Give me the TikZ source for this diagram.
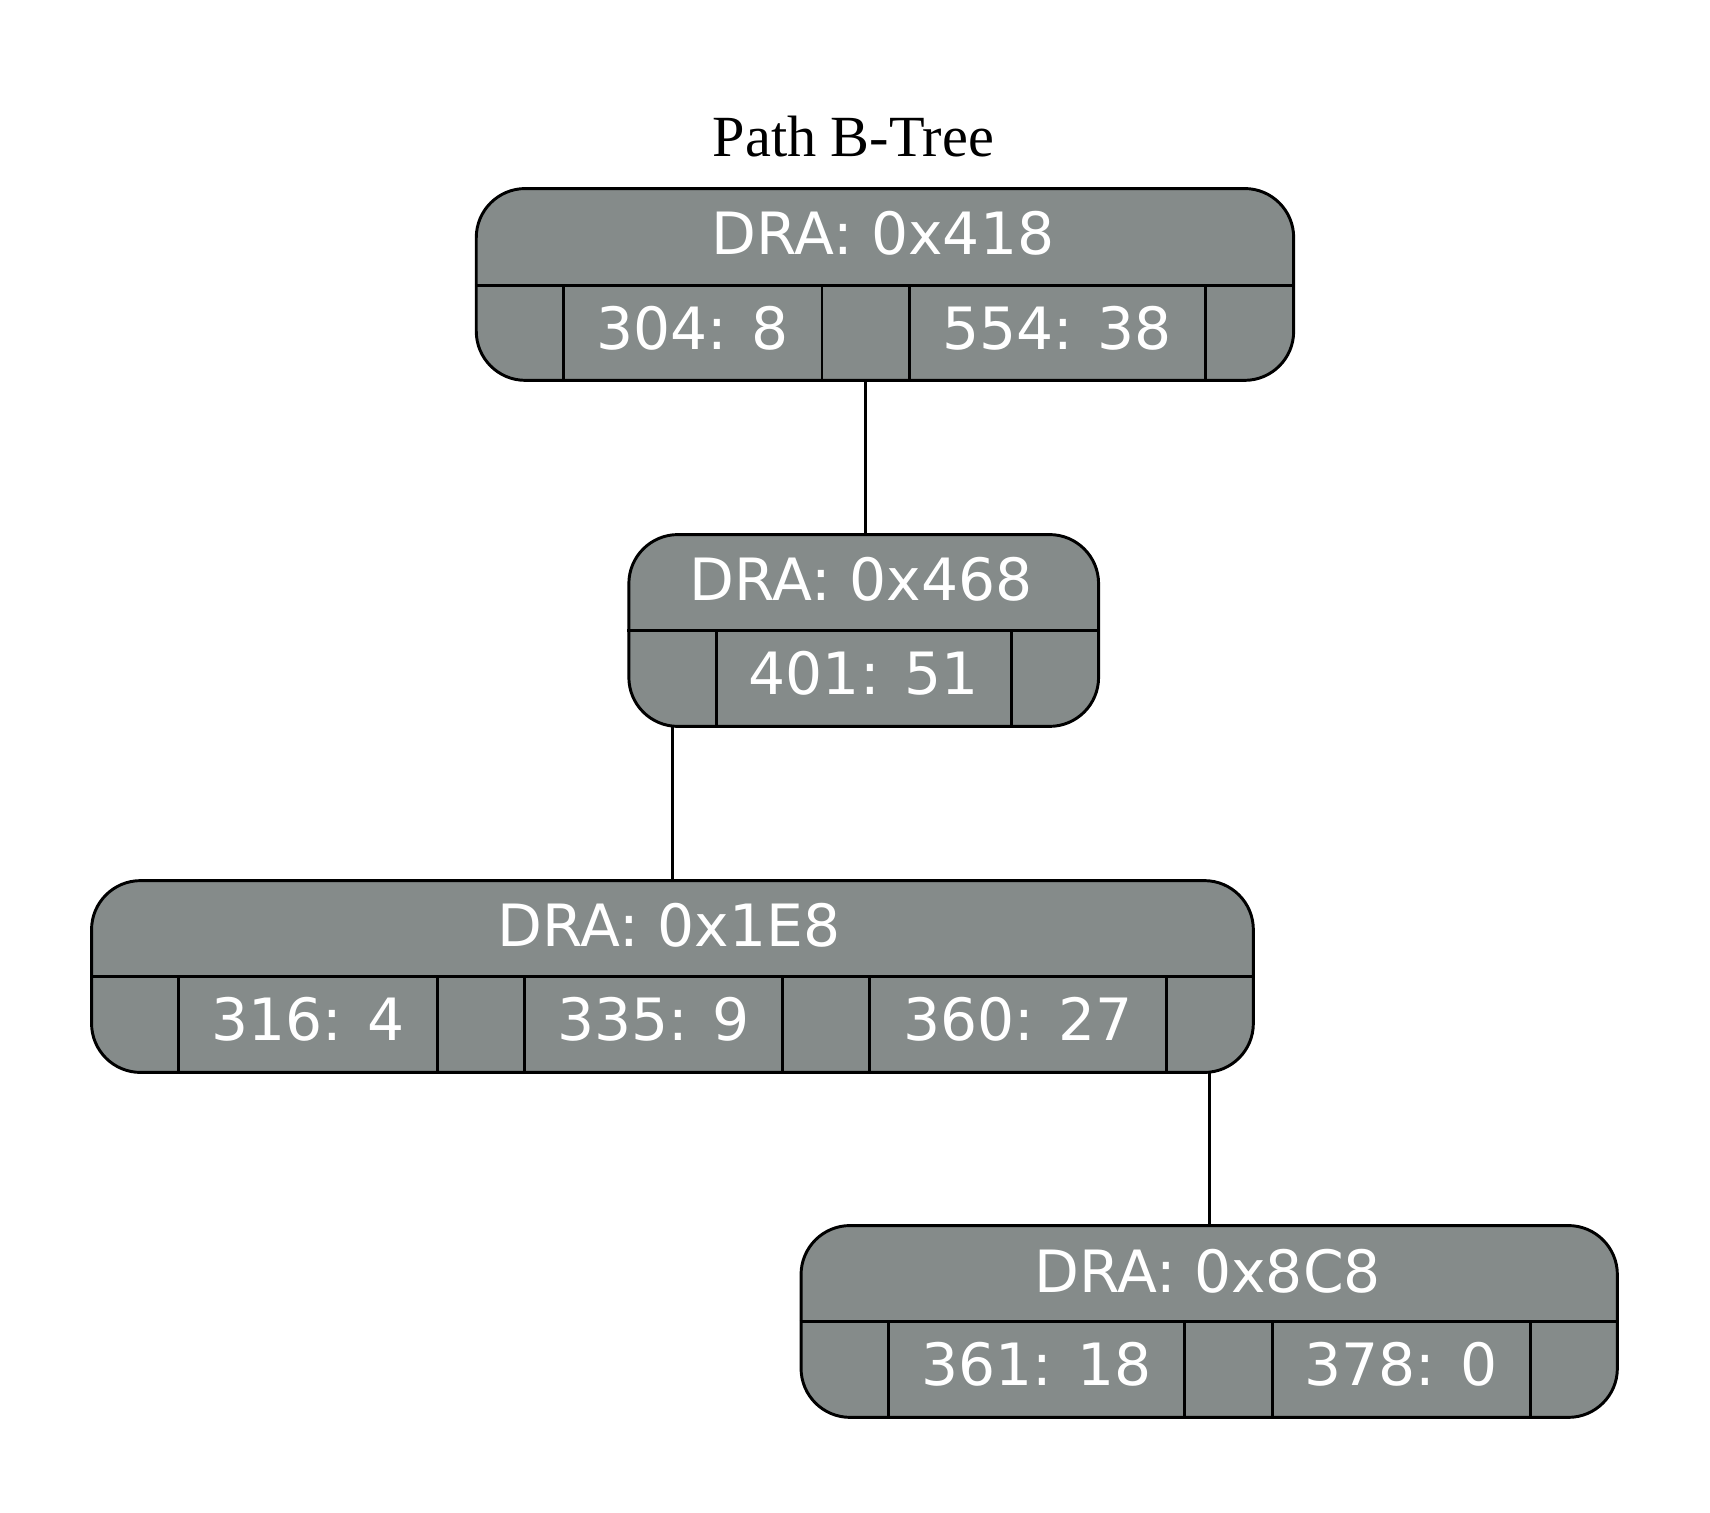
\documentclass[tikz,border=0pt]{standalone}
\usepackage{fontspec}
\setmainfont{Liberation Serif}
\newfontfamily\dvsans{DejaVu Sans}
\definecolor{recfill}{RGB}{133,139,138}
\begin{document}
\begin{tikzpicture}[x=1pt,y=-1pt,
  rec/.style={draw=black, line width=2.7pt, fill=recfill, rounded corners=45pt, inner sep=0pt, minimum height=176pt},
  lbl/.style={text=white, font=\dvsans\fontsize{53.5}{60}\selectfont, inner sep=0pt},
  cell/.style={inner sep=0pt, minimum height=87pt},
  sep/.style={draw=black, line width=2.7pt},
  edge/.style={draw=black, line width=2.5pt},
  ttl/.style={font=\fontsize{53.5}{60}\selectfont, inner sep=0pt}]
\useasboundingbox (0,0) rectangle (1569,1388);

\node[ttl] (title) at (783,125) {Path B-Tree};

% ---------- record 1 ----------
\node[rec, minimum width=750pt] (n1) at (812,261) {};
\node[lbl] (h1) at (810,214) {DRA: 0x418};
\node[cell, minimum width=80pt]  (a0) at (477,305.5) {};
\node[cell, minimum width=237pt] (a1) at (635.5,305.5) {};
\node[cell, minimum width=80pt]  (a2) at (794,305.5) {};
\node[cell, minimum width=272pt] (a3) at (970,305.5) {};
\node[cell, minimum width=81pt]  (a4) at (1146.5,305.5) {};
\node[lbl] (ta1) at ([yshift=4pt]a1.center) {304: 8};
\node[lbl] (ta3) at ([yshift=4pt]a3.center) {554: 38};
\draw[sep] (n1.west |- a0.north) -- (n1.east |- a0.north);
\draw[sep] (a0.north east) -- (a0.south east);
\draw[sep] (a1.north east) -- (a1.south east);
\draw[sep] (a2.north east) -- (a2.south east);
\draw[sep] (a3.north east) -- (a3.south east);

% ---------- record 2 ----------
\node[rec, minimum width=431pt] (n2) at (792.5,578.5) {};
\node[lbl] (h2) at (790,531.5) {DRA: 0x468};
\node[cell, minimum width=80pt]  (b0) at (617,622) {};
\node[cell, minimum width=271pt] (b1) at (792.5,622) {};
\node[cell, minimum width=80pt]  (b2) at (968,622) {};
\node[lbl] (tb1) at ([yshift=4pt]b1.center) {401: 51};
\draw[sep] (n2.west |- b0.north) -- (n2.east |- b0.north);
\draw[sep] (b0.north east) -- (b0.south east);
\draw[sep] (b1.north east) -- (b1.south east);

% ---------- record 3 ----------
\node[rec, minimum width=1066pt] (n3) at (617,896) {};
\node[lbl] (h3) at (614,849) {DRA: 0x1E8};
\node[cell, minimum width=80pt]  (c0) at (124,939.5) {};
\node[cell, minimum width=237pt] (c1) at (282.5,939.5) {};
\node[cell, minimum width=80pt]  (c2) at (441,939.5) {};
\node[cell, minimum width=237pt] (c3) at (599.5,939.5) {};
\node[cell, minimum width=80pt]  (c4) at (758,939.5) {};
\node[cell, minimum width=272pt] (c5) at (934,939.5) {};
\node[cell, minimum width=80pt]  (c6) at (1110,939.5) {};
\node[lbl] (tc1) at ([yshift=4pt]c1.center) {316: 4};
\node[lbl] (tc3) at ([yshift=4pt]c3.center) {335: 9};
\node[lbl] (tc5) at ([yshift=4pt]c5.center) {360: 27};
\draw[sep] (n3.west |- c0.north) -- (n3.east |- c0.north);
\draw[sep] (c0.north east) -- (c0.south east);
\draw[sep] (c1.north east) -- (c1.south east);
\draw[sep] (c2.north east) -- (c2.south east);
\draw[sep] (c3.north east) -- (c3.south east);
\draw[sep] (c4.north east) -- (c4.south east);
\draw[sep] (c5.north east) -- (c5.south east);

% ---------- record 4 ----------
\node[rec, minimum width=749pt] (n4) at (1109.5,1212.5) {};
\node[lbl] (h4) at (1108,1166) {DRA: 0x8C8};
\node[cell, minimum width=80pt]  (d0) at (775,1256) {};
\node[cell, minimum width=272pt] (d1) at (951,1256) {};
\node[cell, minimum width=80pt]  (d2) at (1127,1256) {};
\node[cell, minimum width=237pt] (d3) at (1285.5,1256) {};
\node[cell, minimum width=80pt]  (d4) at (1444,1256) {};
\node[lbl] (td1) at ([yshift=4pt]d1.center) {361: 18};
\node[lbl] (td3) at ([yshift=4pt]d3.center) {378: 0};
\draw[sep] (n4.west |- d0.north) -- (n4.east |- d0.north);
\draw[sep] (d0.north east) -- (d0.south east);
\draw[sep] (d1.north east) -- (d1.south east);
\draw[sep] (d2.north east) -- (d2.south east);
\draw[sep] (d3.north east) -- (d3.south east);

% ---------- connectors ----------
\draw[edge] (a2.south) -- (n2.north -| a2.south);
\draw[edge] (b0.south) -- (n3.north -| b0.south);
\draw[edge] (c6.south) -- (n4.north -| c6.south);
\end{tikzpicture}
\end{document}
